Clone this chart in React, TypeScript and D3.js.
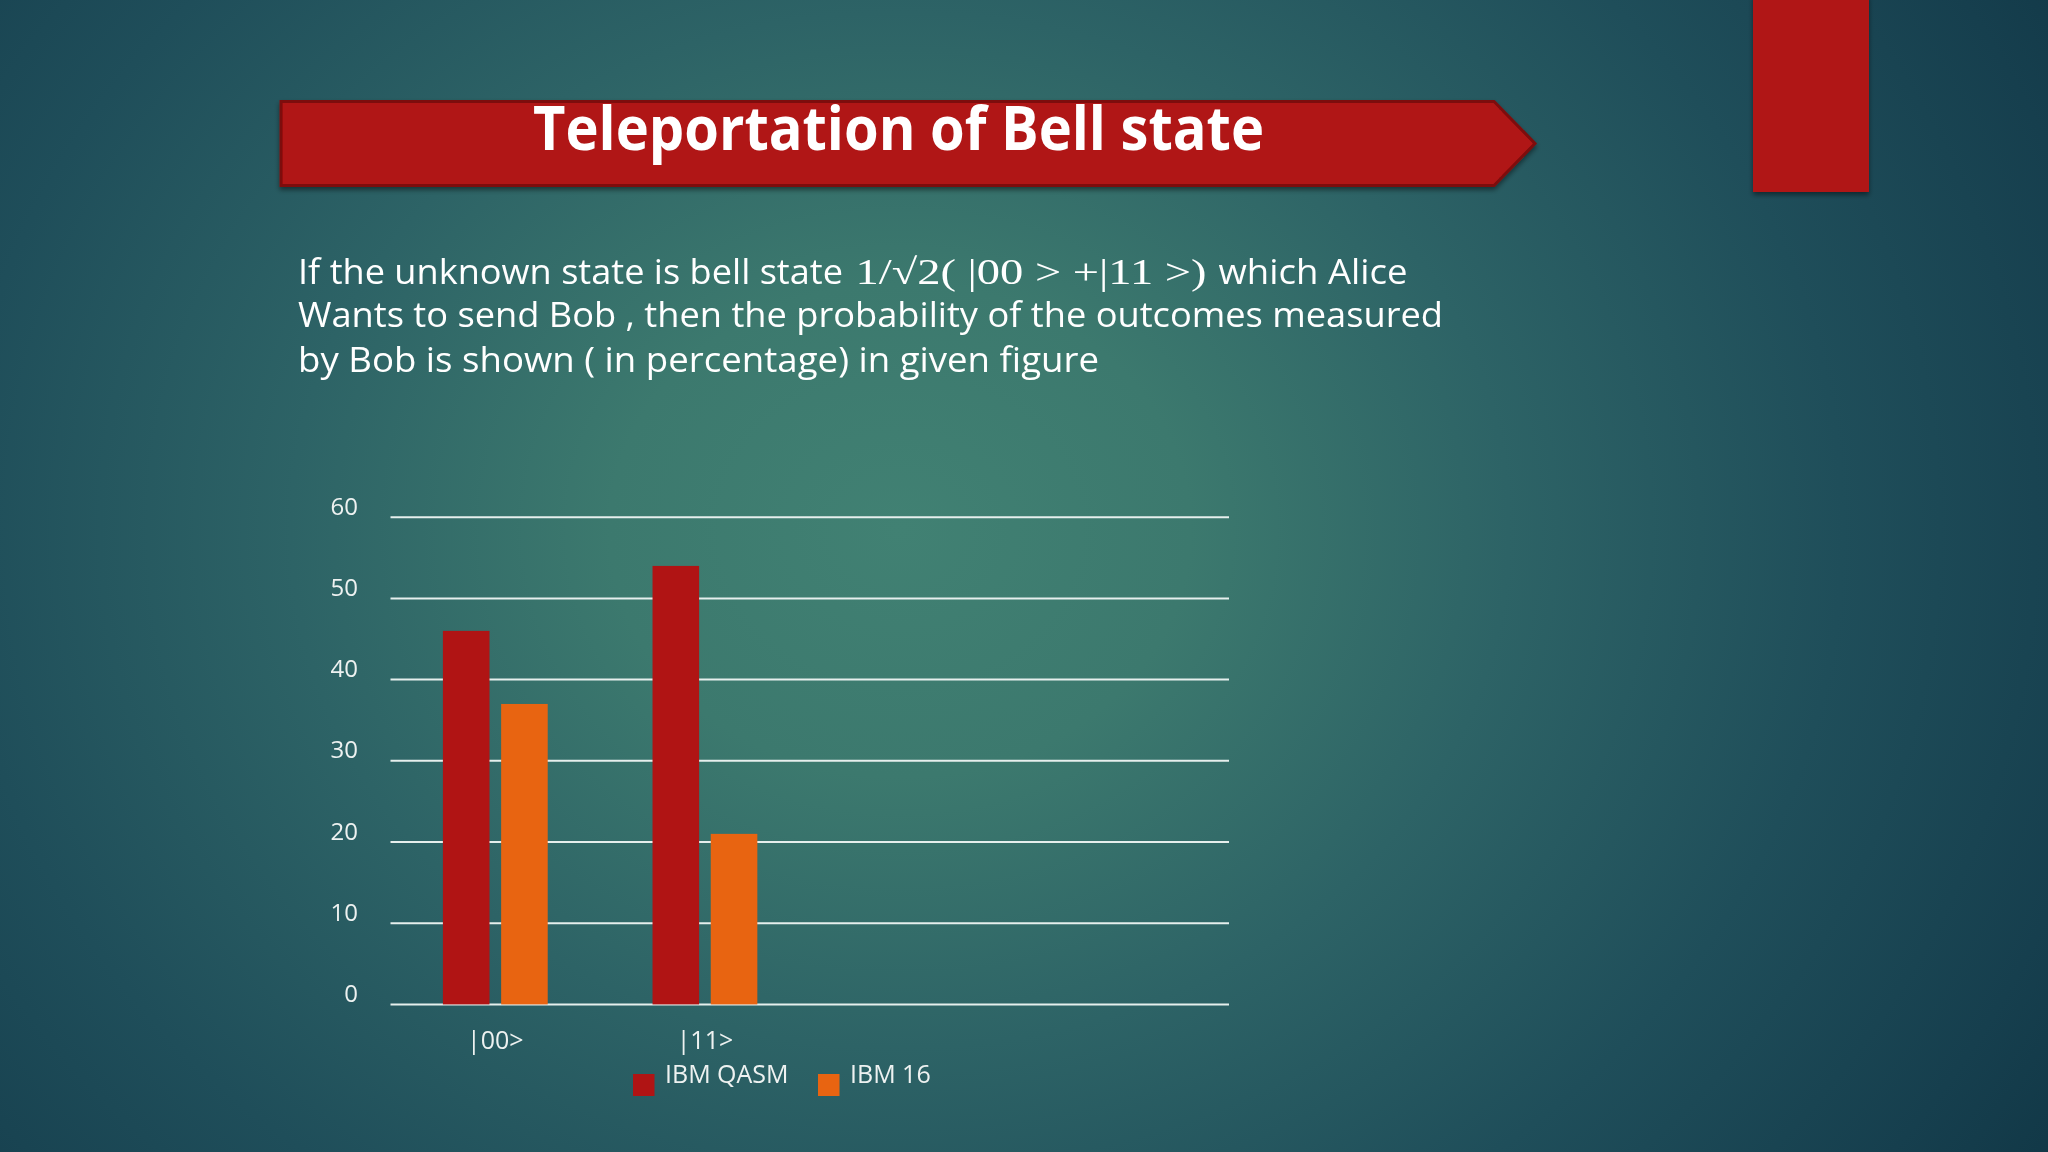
import React from "react";
import * as d3 from "d3";

// ---- data ----
const categories = ["|00>", "|11>", "", ""];
const seriesNames = ["IBM QASM", "IBM 16"];
const qasmValues = [46, 54, null, null];
const ibm16Values = [37, 21, null, null];
const yTicks = [0, 10, 20, 30, 40, 50, 60];
const titleText = "Teleportation of Bell state";
const paraLine1a = "If the unknown state is bell state";
const paraLine1b = "1/\u221A2( |00 > +|11 >)";
const paraLine1c = "which Alice";
const paraLine2 = "Wants to send Bob , then the probability of the outcomes measured";
const paraLine3 = "by Bob is shown ( in percentage) in given figure";

const W = 2048;
const H = 1152;
const RED = "#b01414";
const ORANGE = "#e86411";
const colors = [RED, ORANGE];
const SANS = "'Open Sans', 'Noto Sans', sans-serif";

export default function App() {
  const plotLeft = 390.5;
  const plotRight = 1229;
  const y = d3.scaleLinear().domain([0, 60]).range([1004.4, 517.2]);
  const x0 = d3.scaleBand<string>().domain(categories.map((c, i) => String(i))).range([plotLeft, plotRight]).paddingInner(0).paddingOuter(0);
  const x1 = d3.scaleBand<string>().domain(seriesNames).range([0, x0.bandwidth()]).paddingInner(0.2).paddingOuter(0.9);
  const seriesValues = [qasmValues, ibm16Values];

  const bannerPath = d3.path();
  bannerPath.moveTo(281, 101.5);
  bannerPath.lineTo(1494, 101.5);
  bannerPath.lineTo(1535, 143.5);
  bannerPath.lineTo(1494, 185.5);
  bannerPath.lineTo(281, 185.5);
  bannerPath.closePath();

  return (
    <svg width={W} height={H} viewBox={`0 0 ${W} ${H}`} style={{ position: "fixed", left: 0, top: 0 }}>
      <defs>
        <radialGradient id="bg" cx="900" cy="530" r="1450" gradientUnits="userSpaceOnUse" gradientTransform="translate(900 530) scale(1 0.85) translate(-900 -530)">
          <stop offset="0" stopColor="#418173" />
          <stop offset="0.2" stopColor="#3c796e" />
          <stop offset="0.42" stopColor="#2d6366" />
          <stop offset="0.65" stopColor="#1f4e5a" />
          <stop offset="0.85" stopColor="#163f4e" />
          <stop offset="1" stopColor="#0f3443" />
        </radialGradient>
        <filter id="shadow" x="-10%" y="-10%" width="120%" height="130%">
          <feDropShadow dx="0" dy="3" stdDeviation="2.5" floodColor="#000" floodOpacity="0.45" />
        </filter>
      </defs>
      <rect x={0} y={0} width={W} height={H} fill="url(#bg)" />

      {/* top-right red block */}
      <rect x={1753} y={-5} width={116} height={197} fill={RED} filter="url(#shadow)" />

      {/* title banner */}
      <path d={bannerPath.toString()} fill={RED} stroke="#7d0f0f" strokeWidth={3} filter="url(#shadow)" />
      <text x={533} y={150} fontFamily={SANS} fontWeight={700} fontSize={61} fill="#ffffff" textLength={731} lengthAdjust="spacingAndGlyphs">
        {titleText}
      </text>

      {/* paragraph */}
      <g fill="#ffffff" fontSize={35} fontFamily={SANS}>
        <text x={298} y={284} textLength={545} lengthAdjust="spacingAndGlyphs">{paraLine1a}</text>
        <text x={855.5} y={284} fontFamily="'Liberation Serif', 'DejaVu Serif', serif" fontSize={36} textLength={351} lengthAdjust="spacingAndGlyphs">{paraLine1b}</text>
        <text x={1218.5} y={284} textLength={189} lengthAdjust="spacingAndGlyphs">{paraLine1c}</text>
        <text x={298} y={326.5} textLength={1145} lengthAdjust="spacingAndGlyphs">{paraLine2}</text>
        <text x={298} y={371.5} textLength={801} lengthAdjust="spacingAndGlyphs">{paraLine3}</text>
      </g>

      {/* gridlines */}
      <g stroke="#e6efed" strokeWidth={2}>
        {yTicks.map((t) => (
          <line key={t} x1={plotLeft} x2={plotRight} y1={y(t)} y2={y(t)} />
        ))}
      </g>
      {/* y tick labels */}
      <g fill="#eef2f1" fontFamily={SANS} fontSize={24} textAnchor="end">
        {yTicks.map((t) => (
          <text key={t} x={358} y={y(t) - 12} dominantBaseline="central">{t}</text>
        ))}
      </g>

      {/* bars */}
      {categories.map((c, i) => (
        <g key={i} transform={`translate(${x0(String(i))},0)`}>
          {seriesNames.map((s, si) => {
            const v = seriesValues[si][i];
            if (v == null) return null;
            return (
              <rect key={s} x={x1(s)} y={y(v)} width={x1.bandwidth()} height={y(0) - y(v)} fill={colors[si]} />
            );
          })}
        </g>
      ))}

      {/* category labels */}
      <g fill="#eef2f1" fontFamily={SANS} fontSize={25} textAnchor="middle">
        {categories.map((c, i) => (
          <text key={i} x={(x0(String(i)) as number) + x0.bandwidth() / 2} y={1049}>{c}</text>
        ))}
      </g>

      {/* legend */}
      <g fontFamily={SANS} fontSize={25} fill="#eef2f1">
        {seriesNames.map((s, si) => {
          const lx = si === 0 ? 633 : 818;
          return (
            <g key={s}>
              <rect x={lx} y={1074} width={21.5} height={22} fill={colors[si]} />
              <text x={lx + 32} y={1082.5}>{s}</text>
            </g>
          );
        })}
      </g>
    </svg>
  );
}
